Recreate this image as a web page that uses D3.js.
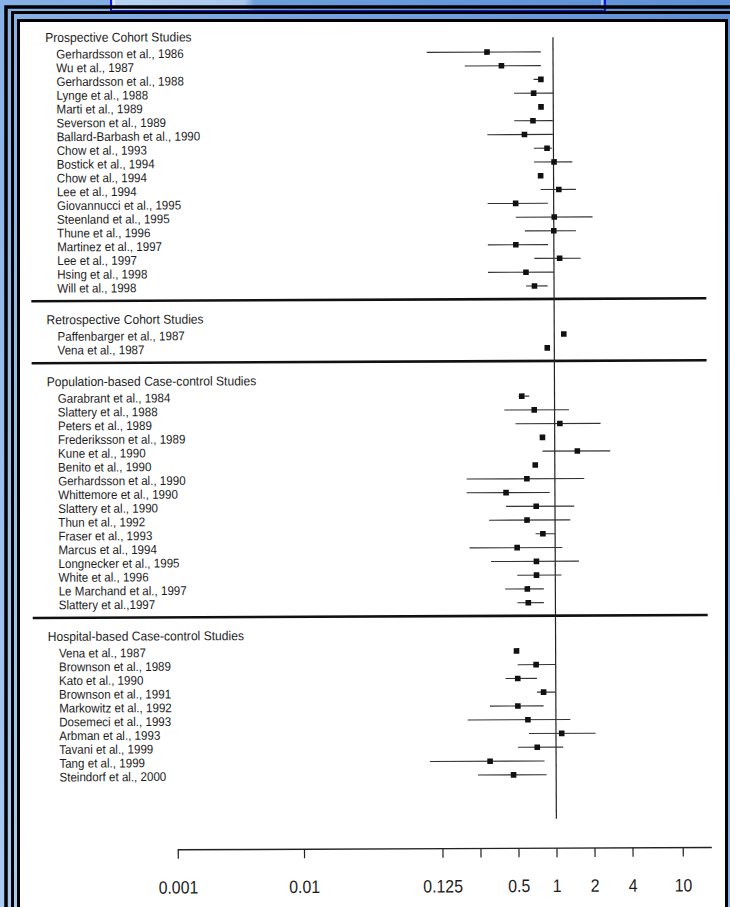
<!DOCTYPE html>
<html>
<head>
<meta charset="utf-8">
<script src="https://cdn.jsdelivr.net/npm/d3@7"></script>
<style>
  html, body { margin: 0; padding: 0; background: #fff; }
  svg { display: block; font-family: "Liberation Sans", Arial, sans-serif; }
</style>
</head>
<body>
<div id="chart"></div>
<script>
// Forest plot : activité physique et risque (études par type)

const sectionTitles = [
    "Prospective Cohort Studies",
    "Retrospective Cohort Studies",
    "Population-based Case-control Studies",
    "Hospital-based Case-control Studies"
];
const sectionSizes = [18, 2, 16, 10];

const studyLabels = [
    "Gerhardsson et al., 1986", "Wu et al., 1987", "Gerhardsson et al., 1988", "Lynge et al., 1988",
    "Marti et al., 1989", "Severson et al., 1989", "Ballard-Barbash et al., 1990", "Chow et al., 1993",
    "Bostick et al., 1994", "Chow et al., 1994", "Lee et al., 1994", "Giovannucci et al., 1995",
    "Steenland et al., 1995", "Thune et al., 1996", "Martinez et al., 1997", "Lee et al., 1997",
    "Hsing et al., 1998", "Will et al., 1998",
    "Paffenbarger et al., 1987", "Vena et al., 1987",
    "Garabrant et al., 1984", "Slattery et al., 1988", "Peters et al., 1989", "Frederiksson et al., 1989",
    "Kune et al., 1990", "Benito et al., 1990", "Gerhardsson et al., 1990", "Whittemore et al., 1990",
    "Slattery et al., 1990", "Thun et al., 1992", "Fraser et al., 1993", "Marcus et al., 1994",
    "Longnecker et al., 1995", "White et al., 1996", "Le Marchand et al., 1997", "Slattery et al.,1997",
    "Vena et al., 1987", "Brownson et al., 1989", "Kato et al., 1990", "Brownson et al., 1991",
    "Markowitz et al., 1992", "Dosemeci et al., 1993", "Arbman et al., 1993", "Tavani et al., 1999",
    "Tang et al., 1999", "Steindorf et al., 2000"
];

const relRisk = [
    0.30, 0.39, 0.80, 0.70, 0.80, 0.69, 0.59, 0.89, 1.01, 0.79, 1.10, 0.50, 1.01, 1.00, 0.50, 1.11, 0.60, 0.70,
    1.19, 0.88,
    0.55, 0.69, 1.10, 0.80, 1.51, 0.70, 0.60, 0.41, 0.71, 0.60, 0.80, 0.50, 0.71, 0.71, 0.60, 0.61,
    0.49, 0.70, 0.50, 0.80, 0.50, 0.60, 1.11, 0.71, 0.30, 0.46
];
const ciLower = [
    0.10, 0.20, 0.70, 0.49, null, 0.49, 0.30, 0.70, 0.70, null, 0.79, 0.30, 0.50, 0.59, 0.30, 0.70, 0.30, 0.60,
    null, null,
    0.52, 0.40, 0.49, null, 0.80, null, 0.20, 0.20, 0.41, 0.30, 0.70, 0.21, 0.31, 0.50, 0.40, 0.50,
    null, 0.50, 0.40, 0.71, 0.30, 0.20, 0.61, 0.50, 0.10, 0.24
];
const ciUpper = [
    0.80, 0.80, 0.83, 1.00, null, 0.99, 0.99, 0.97, 1.41, null, 1.50, 0.90, 2.03, 1.50, 0.90, 1.63, 1.00, 0.89,
    null, null,
    0.63, 1.30, 2.31, null, 2.75, null, 1.71, 0.91, 1.42, 1.32, 1.00, 1.14, 1.54, 1.12, 0.81, 0.81,
    null, 0.99, 0.71, 0.99, 0.80, 1.30, 2.06, 1.14, 0.81, 0.84
];

const tickValues = [0.001, 0.01, 0.125, 0.25, 0.5, 1, 2, 4, 10];
const tickLabels = ["0.001", "0.01", "0.125", "", "0.5", "1", "2", "4", "10"];
const axisEndValue = 17;

function createForestPlot() {
    const width = 730, height = 907;

    const svg = d3.select("#chart")
        .append("svg")
        .attr("width", width)
        .attr("height", height);

    // Fond bleu (diapositive)
    const defs = svg.append("defs");
    const bg = defs.append("linearGradient").attr("id", "bg")
        .attr("x1", "0%").attr("y1", "100%").attr("x2", "100%").attr("y2", "0%");
    bg.append("stop").attr("offset", "0%").attr("stop-color", "#a9cbf1");
    bg.append("stop").attr("offset", "45%").attr("stop-color", "#8cb4e8");
    bg.append("stop").attr("offset", "100%").attr("stop-color", "#5d8fd6");

    const boxGrad = defs.append("linearGradient").attr("id", "boxbg")
        .attr("x1", "0%").attr("x2", "100%");
    boxGrad.append("stop").attr("offset", "0%").attr("stop-color", "#b8d3f3");
    boxGrad.append("stop").attr("offset", "27%").attr("stop-color", "#a9c8ef");
    boxGrad.append("stop").attr("offset", "29%").attr("stop-color", "#6f9edd");
    boxGrad.append("stop").attr("offset", "100%").attr("stop-color", "#5f92d8");

    svg.append("rect")
        .attr("width", width).attr("height", height)
        .attr("fill", "url(#bg)");

    // Boîte du titre en haut
    svg.append("rect")
        .attr("x", 111).attr("y", -4).attr("width", 494).attr("height", 15)
        .attr("fill", "url(#boxbg)")
        .attr("stroke", "#1414f0").attr("stroke-width", 2);
    svg.append("rect")
        .attr("x", 114).attr("y", -4).attr("width", 488).attr("height", 12)
        .attr("fill", "none")
        .attr("stroke", "#ffffff").attr("stroke-width", 1);

    // Cadres noirs
    svg.append("rect")
        .attr("x", 6).attr("y", 7).attr("width", 780).attr("height", 960)
        .attr("fill", "none").attr("stroke", "#000").attr("stroke-width", 3.5);
    svg.append("rect")
        .attr("x", 12.5).attr("y", 12.5).attr("width", 780).attr("height", 960)
        .attr("fill", "none").attr("stroke", "#000").attr("stroke-width", 3);
    svg.append("rect")
        .attr("x", 18.5).attr("y", 20.5).attr("width", 708).attr("height", 940)
        .attr("fill", "#fff").attr("stroke", "#000").attr("stroke-width", 3);

    // Page scannée légèrement inclinée
    const g = svg.append("g")
        .attr("transform", "rotate(-0.25, 365, 450)");

    // Positions verticales (en "slots" de ligne)
    const sections = [];
    const studySlot = [];
    let slot = 0;
    sectionSizes.forEach((n, s) => {
        const first = slot;
        for (let i = 0; i < n; i++) studySlot.push(first + i);
        sections.push({ title: sectionTitles[s], first, last: first + n - 1 });
        slot = first + n - 1 + 3.5;
    });

    const y = d3.scaleLinear().domain([0, 1]).range([52.6, 52.6 + 13.77]);
    const x = d3.scaleLog().domain([0.001, 10]).range([176, 681]);

    const data = studyLabels.map((label, i) => ({
        label,
        slot: studySlot[i],
        rr: relRisk[i],
        lo: ciLower[i],
        hi: ciUpper[i]
    }));

    // Séparateurs entre sections
    g.selectAll(".divider")
        .data(sections.slice(0, -1))
        .enter()
        .append("line")
        .attr("class", "divider")
        .attr("x1", 32).attr("x2", 707)
        .attr("y1", d => y(d.last + 0.95))
        .attr("y2", d => y(d.last + 0.95))
        .attr("stroke", "#111")
        .attr("stroke-width", 2.6);

    // Titres des sections
    g.selectAll(".section-title")
        .data(sections)
        .enter()
        .append("text")
        .attr("class", "section-title")
        .attr("transform", d => `translate(47,${y(d.first) - 12}) scale(0.93,1)`)
        .style("font-size", "13px")
        .attr("fill", "#1c1c1c")
        .text(d => d.title);

    // Noms des études
    g.selectAll(".study-label")
        .data(data)
        .enter()
        .append("text")
        .attr("class", "study-label")
        .attr("transform", d => `translate(58,${y(d.slot) + 4.6}) scale(0.92,1)`)
        .style("font-size", "12.6px")
        .attr("fill", "#1c1c1c")
        .text(d => d.label);

    // Ligne de référence à 1
    g.append("line")
        .attr("x1", x(1)).attr("x2", x(1))
        .attr("y1", y(-1.05)).attr("y2", y(55.7))
        .attr("stroke", "#222")
        .attr("stroke-width", 1.2);

    // Intervalles de confiance
    g.selectAll(".ci")
        .data(data.filter(d => d.lo !== null))
        .enter()
        .append("line")
        .attr("class", "ci")
        .attr("x1", d => x(d.lo)).attr("x2", d => x(d.hi))
        .attr("y1", d => y(d.slot)).attr("y2", d => y(d.slot))
        .attr("stroke", "#333")
        .attr("stroke-width", 1.1);

    // Estimations ponctuelles
    const ms = 5.6;
    g.selectAll(".point")
        .data(data)
        .enter()
        .append("rect")
        .attr("class", "point")
        .attr("x", d => x(d.rr) - ms / 2)
        .attr("y", d => y(d.slot) - ms / 2)
        .attr("width", ms).attr("height", ms)
        .attr("fill", "#111");

    // Axe logarithmique
    const axisY = 849;
    const axis = g.append("g")
        .attr("class", "axis")
        .attr("transform", `translate(0,${axisY})`)
        .call(d3.axisBottom(x)
            .tickValues(tickValues)
            .tickFormat((d, i) => tickLabels[i])
            .tickSize(9)
            .tickPadding(22)
            .tickSizeOuter(0));

    axis.select(".domain").remove();
    axis.append("line")
        .attr("x1", x(tickValues[0])).attr("x2", x(axisEndValue))
        .attr("y1", 0).attr("y2", 0)
        .attr("stroke", "#222").attr("stroke-width", 1.4);
    axis.selectAll(".tick line").attr("stroke", "#222").attr("stroke-width", 1.2);
    axis.selectAll(".tick text")
        .attr("transform", "scale(0.88,1)")
        .attr("fill", "#1c1c1c")
        .style("font-family", "'Liberation Sans', Arial, sans-serif")
        .style("font-size", "18px");
}

createForestPlot();
</script>
</body>
</html>
